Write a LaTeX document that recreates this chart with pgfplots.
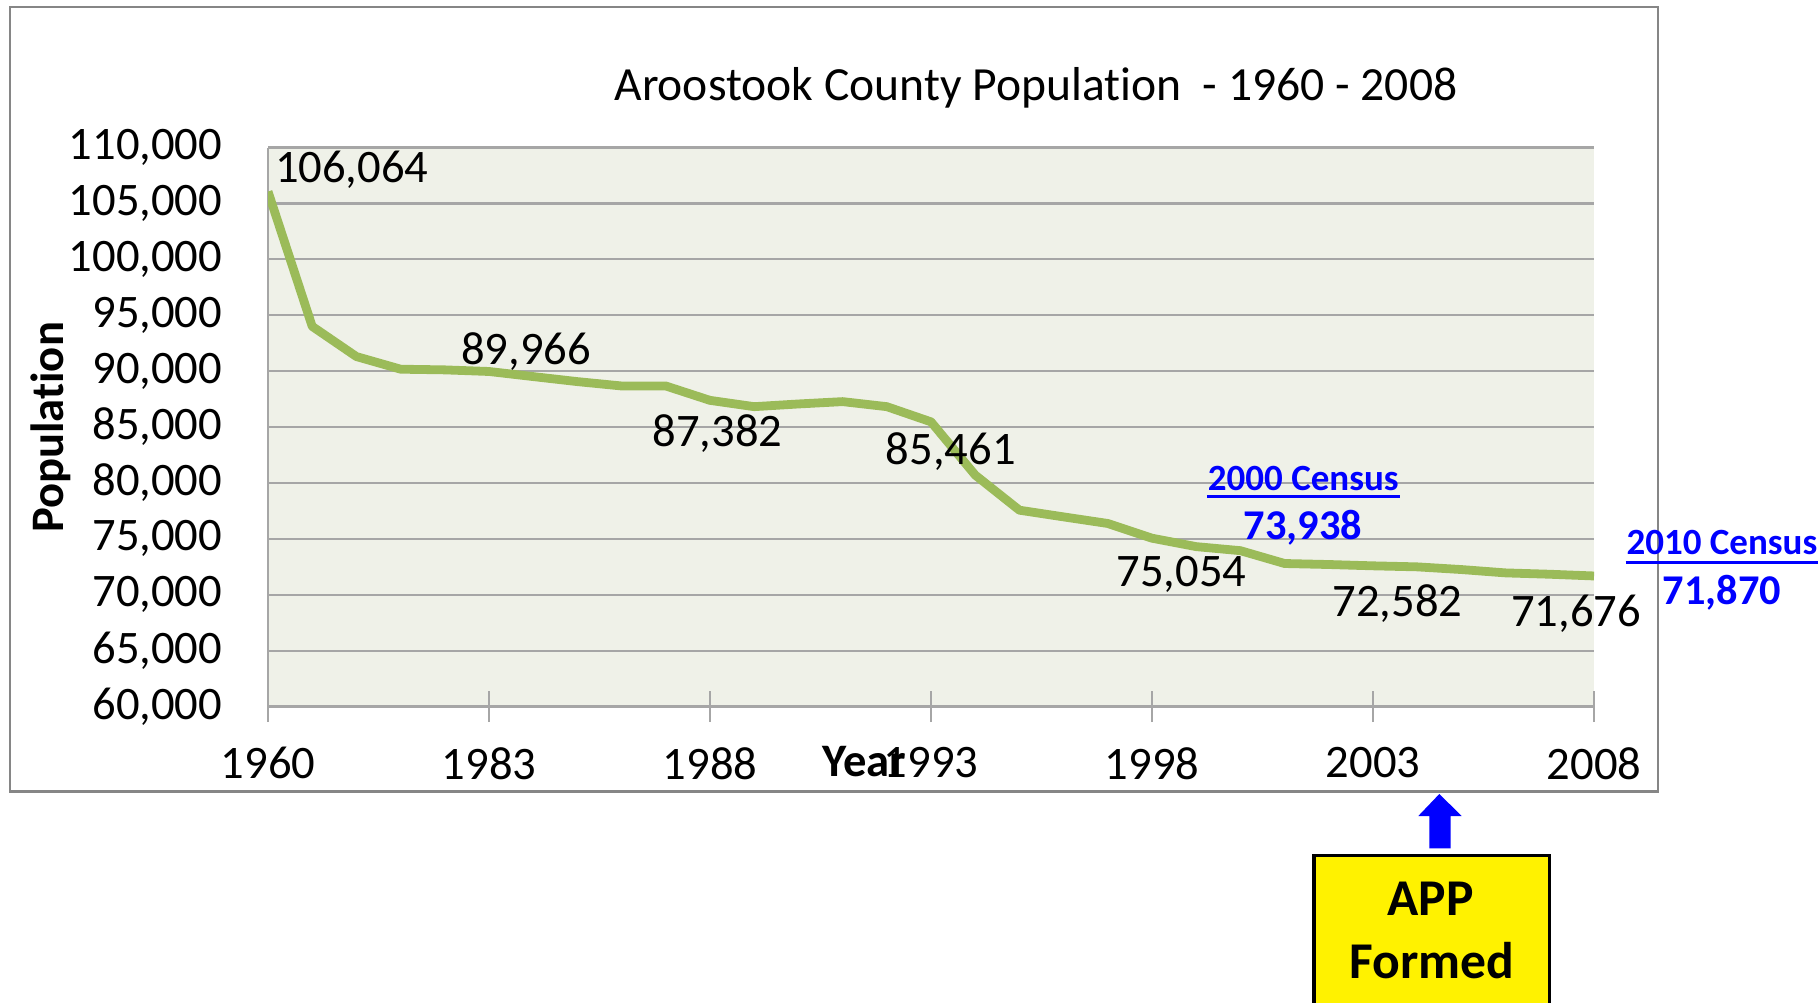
\documentclass[border=0pt]{standalone}
\usepackage{pgfplots}
\pgfplotsset{compat=1.18}
\usepackage{fontspec}
\setmainfont{Carlito}[Ligatures=NoCommon]
\definecolor{linegreen}{RGB}{155,187,89}
\definecolor{plotbg}{RGB}{239,241,232}
\definecolor{gridgray}{RGB}{166,166,166}
\definecolor{bordergray}{RGB}{134,134,134}
\definecolor{cblue}{RGB}{0,0,255}
\newcommand{\fs}{\fontsize{23.3}{28}\selectfont}
\begin{document}
\begin{tikzpicture}[x=0.5pt,y=0.5pt]
\useasboundingbox (0,0) rectangle (1819,1002);
\draw[line width=1.4pt, bordergray] (10,995) rectangle (1658,210.5);
\begin{axis}[
  at={(134pt,147.75pt)}, anchor=south west,
  width=663pt, height=279.5pt, scale only axis,
  xmin=0, xmax=30, ymin=60000, ymax=110000,
  xtick={0,5,...,30},
  xticklabels={1960,1983,1988,1993,1998,2003,2008},
  ytick={60000,65000,...,110000},
  scaled y ticks=false,
  yticklabels={{60,000},{65,000},{70,000},{75,000},{80,000},{85,000},{90,000},{95,000},{100,000},{105,000},{110,000}},
  ymajorgrids, grid style={gridgray, line width=1.1pt},
  axis x line*=bottom, axis y line*=left,
  axis line style={gridgray, line width=1.1pt},
  tick align=center, major tick length=15.5pt,
  xtick style={gridgray, line width=0.9pt},
  ytick style={draw=none},
  axis background/.style={fill=plotbg},
  tick label style={font=\fs},
  xticklabel style={anchor=north, inner sep=0pt, yshift=-12.5pt},
  yticklabel style={anchor=east, inner sep=0pt, xshift=-15pt},
]
\addplot[linegreen, line width=4.4pt, line join=round, no marks] table[x=i, y=pop] {
i pop
0 106064
1 94000
2 91300
3 90170
4 90110
5 89966
6 89510
7 89060
8 88670
9 88670
10 87382
11 86820
12 87060
13 87270
14 86820
15 85461
16 80700
17 77560
18 76960
19 76370
20 75054
21 74300
22 73938
23 72790
24 72700
25 72582
26 72490
27 72250
28 71950
29 71830
30 71676
};
\end{axis}
% title
\node[anchor=base, inner sep=0pt, font=\fontsize{23.8}{28}\selectfont] at (1036,901.5) {Aroostook County Population~~- 1960 - 2008};
% data labels
\node[anchor=base, inner sep=0pt, font=\fs] at (351.7,819.3) {106,064};
\node[anchor=base, inner sep=0pt, font=\fs] at (526,637) {89,966};
\node[anchor=base, inner sep=0pt, font=\fs] at (717.5,555) {87,382};
\node[anchor=base, inner sep=0pt, font=\fs] at (950.8,537) {85,461};
\node[anchor=base, inner sep=0pt, font=\fs] at (1181.5,415.3) {75,054};
\node[anchor=base, inner sep=0pt, font=\fs] at (1397.5,385.3) {72,582};
\node[anchor=base, inner sep=0pt, font=\fs] at (1576,375.3) {71,676};
% axis titles
\node[anchor=base, inner sep=0pt, font=\fs\bfseries] at (864.4,225.3) {Year};
\node[anchor=base, inner sep=0pt, rotate=90, font=\fs\bfseries] at (63.3,574.5) {Population};
% census annotations
\node[anchor=base, inner sep=0pt, text=cblue, font=\fontsize{18.5}{22}\selectfont\bfseries] at (1303.3,511.3) {2000 Census};
\draw[cblue, line width=1.25pt] (1206.8,505.3) -- (1399.7,505.3);
\node[anchor=base, inner sep=0pt, text=cblue, font=\fontsize{21.2}{25}\selectfont\bfseries] at (1302.8,462) {73,938};
\node[anchor=base, inner sep=0pt, text=cblue, font=\fontsize{18.5}{22}\selectfont\bfseries] at (1721.9,447) {2010 Census};
\draw[cblue, line width=1.25pt] (1625.7,439.7) -- (1818.1,439.7);
\node[anchor=base, inner sep=0pt, text=cblue, font=\fontsize{21.2}{25}\selectfont\bfseries] at (1721.8,397) {71,870};
% arrow
\fill[cblue] (1439.3,208) -- (1461.7,186) -- (1450.7,186) -- (1450.7,153.7) -- (1429.3,153.7) -- (1429.3,186) -- (1418.3,186) -- cycle;
% APP box
\filldraw[fill=yellow, draw=black, line width=1.65pt] (1314,-30) rectangle (1549.3,146.3);
\node[anchor=base, inner sep=0pt, font=\fontsize{25.8}{30}\selectfont\bfseries] at (1430.8,87) {APP};
\node[anchor=base, inner sep=0pt, font=\fontsize{25.8}{30}\selectfont\bfseries] at (1432,23.7) {Formed};
\end{tikzpicture}
\end{document}
